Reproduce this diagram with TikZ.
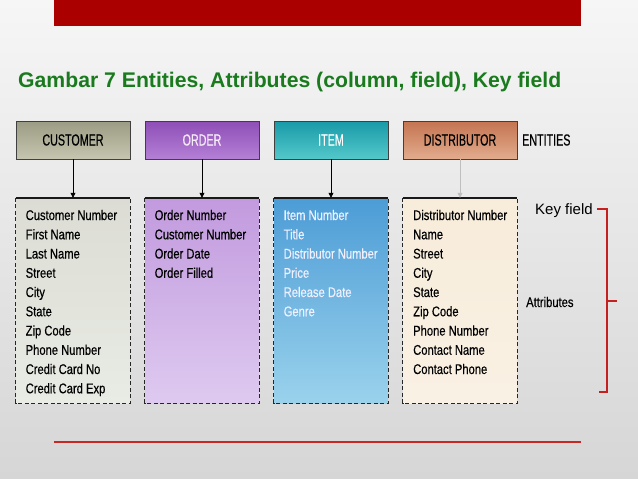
\documentclass[tikz,border=0pt]{standalone}
\usepackage{fontspec}
\setmainfont{Liberation Sans}
\newfontfamily\entf[FakeStretch=0.67,FakeBold=0.4]{Liberation Sans}
\newfontfamily\attf[FakeStretch=0.8,FakeBold=0.4]{Liberation Sans}
\usetikzlibrary{arrows.meta}
\definecolor{bgtop}{RGB}{246,246,246}
\definecolor{bgbot}{RGB}{214,214,214}
\definecolor{banner}{RGB}{170,0,0}
\definecolor{titlegreen}{RGB}{26,122,30}
\definecolor{custT}{RGB}{156,156,132}
\definecolor{custB}{RGB}{198,198,176}
\definecolor{ordT}{RGB}{142,78,182}
\definecolor{ordB}{RGB}{180,128,214}
\definecolor{itmT}{RGB}{24,154,168}
\definecolor{itmB}{RGB}{84,200,202}
\definecolor{disT}{RGB}{196,116,80}
\definecolor{disB}{RGB}{226,172,142}
\definecolor{custAT}{RGB}{220,220,212}
\definecolor{custAB}{RGB}{232,236,228}
\definecolor{ordAT}{RGB}{194,154,222}
\definecolor{ordAB}{RGB}{222,202,240}
\definecolor{itmAT}{RGB}{76,156,214}
\definecolor{itmAB}{RGB}{154,210,236}
\definecolor{disAT}{RGB}{248,236,218}
\definecolor{disAB}{RGB}{249,241,228}
\definecolor{bracketred}{RGB}{196,32,32}
\definecolor{rulered}{RGB}{200,40,36}
\begin{document}
\begin{tikzpicture}[x=1pt,y=-1pt,
  entbox/.style={draw=black!75, line width=0.7pt, minimum width=114pt, minimum height=38pt, inner sep=0pt, font=\entf\fontsize{16}{16}\selectfont},
  attbox/.style={draw=none, minimum width=114pt, minimum height=205pt, inner sep=0pt},
  attborder/.style={draw=black!85, line width=0.7pt, dash pattern=on 4pt off 2.5pt},
  atttop/.style={draw=black!90, line width=1.4pt},
  attext/.style={anchor=base west, inner sep=0pt, font=\attf\fontsize{14}{14}\selectfont},
  arr/.style={draw=black, line width=0.7pt, -{Triangle[width=5pt,length=5pt]}},
  bracketline/.style={draw=bracketred, line width=1.1pt}
]
\useasboundingbox (0,0) rectangle (638,479);
\shade[top color=bgtop, bottom color=bgbot] (0,0) rectangle (638,479);
\fill[banner] (54,0) rectangle (581,26);
\node[anchor=base west, inner sep=0pt, text=titlegreen, font=\bfseries\fontsize{21.2}{24}\selectfont] (title) at (18,87) {Gambar 7 Entities, Attributes (column, field), Key field};

% entities
\node[entbox, top color=custT, bottom color=custB, text=black] (cust) at (73,140) {CUSTOMER};
\node[entbox, top color=ordT, bottom color=ordB, text=white!92!violet] (ord) at (202,140) {ORDER};
\node[entbox, top color=itmT, bottom color=itmB, text=white] (itm) at (331,140) {ITEM};
\node[entbox, top color=disT, bottom color=disB, text=black] (dis) at (460,140) {DISTRIBUTOR};
\node[anchor=west, inner sep=0pt, font=\entf\fontsize{16}{16}\selectfont] (ent) at (522,140) {ENTITIES};

% attribute boxes
\node[attbox, top color=custAT, bottom color=custAB] (custA) at (73,300.5) {};
\node[attbox, top color=ordAT, bottom color=ordAB] (ordA) at (202,300.5) {};
\node[attbox, top color=itmAT, bottom color=itmAB] (itmA) at (331,300.5) {};
\node[attbox, top color=disAT, bottom color=disAB] (disA) at (460,300.5) {};
\foreach \b in {custA,ordA,itmA,disA}{
  \draw[attborder] (\b.north west) -- (\b.south west) -- (\b.south east) -- (\b.north east);
  \draw[atttop] (\b.north west) -- (\b.north east);
}

% arrows
\draw[arr] (cust.south) -- (custA.north);
\draw[arr] (ord.south) -- (ordA.north);
\draw[arr] (itm.south) -- (itmA.north);
\draw[arr, draw=black!25, fill=black] (dis.south) -- (disA.north);

% attribute texts
\foreach \t [count=\i] in {Customer Number, First Name, Last Name, Street, City, State, Zip Code, Phone Number, Credit Card No, Credit Card Exp}
  \node[attext] (ct\i) at (25.5,{220+(\i-1)*19.25}) {\t};
\foreach \t [count=\i] in {Order Number, Customer Number, Order Date, Order Filled}
  \node[attext] (ot\i) at (154.5,{220+(\i-1)*19.25}) {\t};
\foreach \t [count=\i] in {Item Number, Title, Distributor Number, Price, Release Date, Genre}
  \node[attext, text=white!94!blue] (it\i) at (283.5,{220+(\i-1)*19.25}) {\t};
\foreach \t [count=\i] in {Distributor Number, Name, Street, City, State, Zip Code, Phone Number, Contact Name, Contact Phone}
  \node[attext] (dt\i) at (413,{220+(\i-1)*19.25}) {\t};

% key field and bracket
\node[anchor=base west, inner sep=0pt, font=\fontsize{15}{15}\selectfont] (key) at (535,214) {Key field};
\node[anchor=west, inner sep=0pt, font=\attf\fontsize{14}{14}\selectfont] (attr) at (526,302) {Attributes};
\coordinate (b1) at (597,209);
\coordinate (b2) at (607,209);
\coordinate (b3) at (607,392);
\coordinate (b4) at (599,392);
\coordinate (m1) at (607,301);
\coordinate (m2) at (617,301);
\draw[bracketline] (b1) -- (b2) -- (b3) -- (b4);
\draw[bracketline] (m1) -- (m2);

% bottom rule
\coordinate (r1) at (54,442);
\coordinate (r2) at (581,442);
\draw[draw=rulered, line width=2pt] (r1) -- (r2);
\end{tikzpicture}
\end{document}
